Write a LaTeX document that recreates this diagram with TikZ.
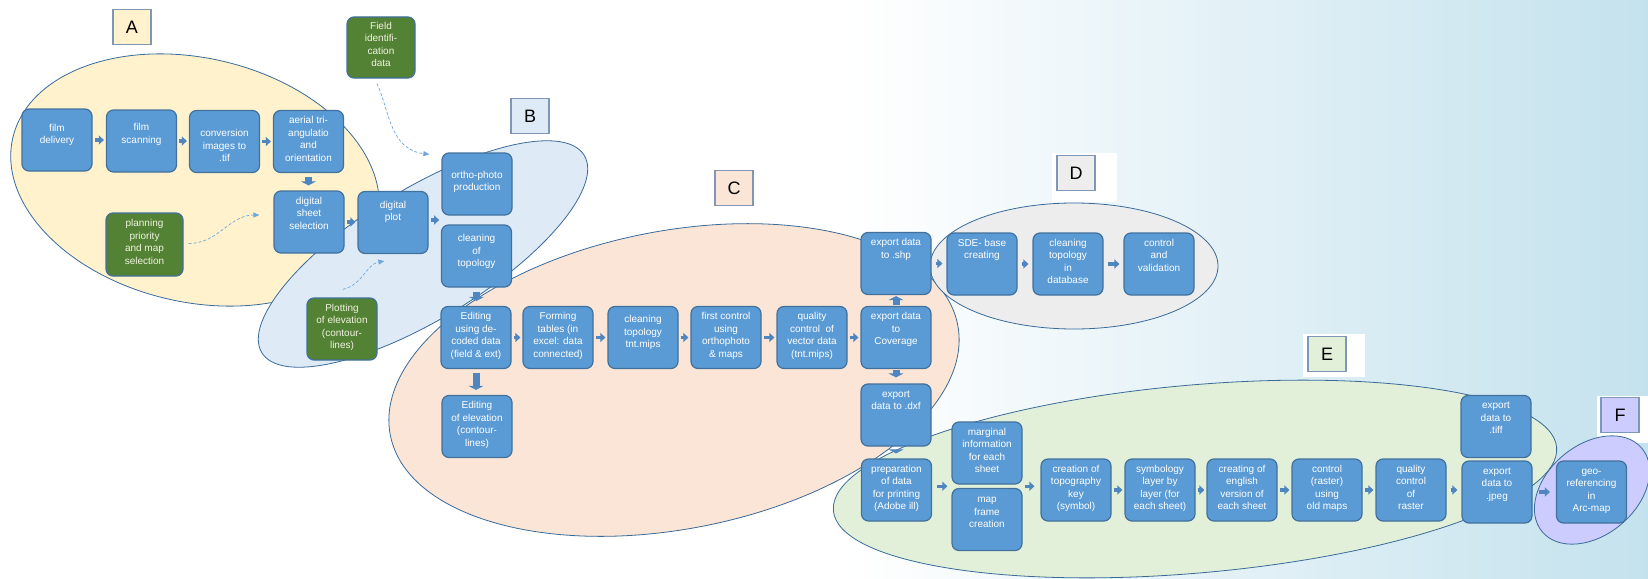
\documentclass[tikz,border=0pt]{standalone}
\usepackage{fontspec}
\setmainfont{Liberation Sans}
\usetikzlibrary{arrows.meta,calc}
\definecolor{boxfill}{HTML}{5B9BD5}
\definecolor{boxborder}{HTML}{41719C}
\definecolor{greenfill}{HTML}{548235}
\definecolor{greentext}{HTML}{F0F3E0}
\definecolor{arrowc}{HTML}{4F86C0}
\definecolor{dashc}{HTML}{6FA8DC}
\definecolor{ellborder}{HTML}{3A6A99}
\definecolor{fillA}{HTML}{FFF2CC}
\definecolor{fillB}{HTML}{DEEBF7}
\definecolor{fillC}{HTML}{FBE5D6}
\definecolor{fillD}{HTML}{EDEDED}
\definecolor{fillE}{HTML}{E2F0D9}
\definecolor{fillF}{HTML}{CCCCFF}
\definecolor{labborder}{HTML}{7F97B7}
\definecolor{bgblue}{HTML}{C4E2ED}
\newcommand{\boxtxt}[2][0pt]{\parbox[c][58pt][t]{68pt}{\centering\rule{0pt}{\dimexpr 11pt+#1\relax}#2\par}}
\tikzset{
  box/.style={draw=boxborder, fill=boxfill, rounded corners=7pt, line width=1.2pt,
    minimum width=70pt, minimum height=62pt, inner sep=0pt, text=white,
    font=\fontsize{10}{12.5}\selectfont},
  gbox/.style={box, fill=greenfill, text=greentext},
  ell/.style={draw=ellborder, line width=0.8pt},
  lab/.style={draw=labborder, line width=1.8pt, minimum width=38pt, minimum height=35pt,
    inner sep=0pt, font=\fontsize{18}{18}\selectfont},
  harr/.style={draw=arrowc, line width=3.5pt, -{Triangle[length=5pt,width=9pt]},
    shorten <=2pt, shorten >=2pt},
  varr/.style={draw=arrowc, line width=7pt, -{Triangle[length=4pt,width=15pt]},
    shorten <=4pt, shorten >=5pt},
  dconn/.style={draw=dashc, line width=0.7pt, dash pattern=on 3pt off 2pt,
    -{Triangle[length=6pt,width=5pt]}}
}
\begin{document}
\begin{tikzpicture}[x=1pt,y=-1pt]
\useasboundingbox (0,0) rectangle (1648,578);
\fill[white] (0,0) rectangle (1648,578);
\shade[left color=white,right color=bgblue] (850,0) rectangle (1648,578);
% white backings of labels
\fill[white] (1052,153) rectangle (1117,202);
\fill[white] (1303,334) rectangle (1365,377);
\fill[white] (1597,396) rectangle (1648,443);
% group ellipses
\draw[ell, fill=fillA, rotate around={-13:(195,180)}] (195,180) ellipse [x radius=187pt, y radius=122pt];
\draw[ell, fill=fillB, rotate around={31.5:(423,254)}] (423,254) ellipse [x radius=189pt, y radius=65pt];
\draw[ell, fill=fillC, rotate around={11:(674,380)}] (674,380) ellipse [x radius=289pt, y radius=149pt];
\draw[ell, fill=fillD] (1074,266) ellipse [x radius=144pt, y radius=63pt];
\draw[ell, fill=fillE, rotate around={5:(1195,479)}] (1195,479) ellipse [x radius=363pt, y radius=94pt];
\draw[ell, fill=fillF, rotate around={40:(1592,490)}] (1592,490) ellipse [x radius=65pt, y radius=45pt];
% labels
\node[lab, fill=fillA] (labA) at (132,27) {A};
\node[lab, fill=fillB] (labB) at (530,116) {B};
\node[lab, fill=fillC] (labC) at (734,188) {C};
\node[lab, fill=fillD] (labD) at (1076,173) {D};
\node[lab, fill=fillE] (labE) at (1327,354) {E};
\node[lab, fill=fillF] (labF) at (1620,415) {F};
% boxes
\node[box] (fd) at (57,140) {\boxtxt[9pt]{film\\delivery}};
\node[box] (fs) at (141.5,141) {\boxtxt[7.5pt]{film\\scanning}};
\node[box] (conv) at (224.5,141.5) {\boxtxt[13pt]{conversion\\images to\\.tif}};
\node[box] (aer) at (308.5,141.5) {\boxtxt{aerial tri-\\angulatio\\and\\orientation}};
\node[box] (dss) at (309,222) {\boxtxt{digital\\sheet\\selection}};
\node[box] (dp) at (393,222.5) {\boxtxt[3.5pt]{digital\\plot}};
\node[gbox, minimum width=77pt, minimum height=63pt] (plan) at (144.5,244.5) {\boxtxt{planning\\priority\\and map\\selection}};
\node[gbox, minimum width=68pt, minimum height=61pt] (field) at (381,47.5) {\boxtxt{Field\\identifi-\\cation\\data}};
\node[box] (ortho) at (477,184) {\boxtxt[12pt]{ortho-photo\\production}};
\node[box] (clean) at (476.5,256) {\boxtxt[3.5pt]{cleaning\\of\\topology}};
\node[gbox] (pelev) at (342,329) {\boxtxt{Plotting\\of elevation\\(contour-\\lines)}};
\node[box] (edit) at (476,337.5) {\boxtxt{Editing\\using de-\\coded data\\(field \& ext)}};
\node[box] (form) at (558,337.5) {\boxtxt{Forming\\tables (in\\excel: data\\connected)}};
\node[box] (cltnt) at (643,337.5) {\boxtxt[3pt]{cleaning\\topology\\tnt.mips}};
\node[box] (first) at (726,337.5) {\boxtxt{first control\\using\\orthophoto\\\& maps}};
\node[box] (qual) at (812,337.5) {\boxtxt{quality\\control\ \ of\\vector data\\(tnt.mips)}};
\node[box] (elev) at (477,426.5) {\boxtxt{Editing\\of elevation\\(contour-\\lines)}};
\node[box] (cov) at (896,337.5) {\boxtxt{export data\\to\\Coverage}};
\node[box] (shp) at (896,263.5) {\boxtxt{export data\\to .shp}};
\node[box] (dxf) at (896,415) {\boxtxt{export\\data to .dxf}};
\node[box] (sde) at (982,264) {\boxtxt{SDE- base\\creating}};
\node[box] (cldb) at (1068,264) {\boxtxt{cleaning\\topology\\in\\database}};
\node[box] (ctrl) at (1159,264) {\boxtxt{control\\and\\validation}};
\node[box] (prep) at (896.5,490) {\boxtxt{preparation\\of data\\for printing\\(Adobe ill)}};
\node[box] (marg) at (987,453) {\boxtxt{marginal\\information\\for each\\sheet}};
\node[box] (frame) at (987,519.5) {\boxtxt[1pt]{map\\frame\\creation}};
\node[box] (key) at (1076,490) {\boxtxt{creation of\\topography\\key\\(symbol)}};
\node[box] (symb) at (1160,490) {\boxtxt{symbology\\layer by\\layer (for\\each sheet)}};
\node[box] (eng) at (1242,490) {\boxtxt{creating of\\english\\version of\\each sheet}};
\node[box] (ctlr) at (1327,490) {\boxtxt{control\\(raster)\\using\\old maps}};
\node[box] (qr) at (1411,490) {\boxtxt{quality\\control\\of\\raster}};
\node[box] (tiff) at (1496,426.5) {\boxtxt{export\\data to\\.tiff}};
\node[box] (jpeg) at (1497,492) {\boxtxt{export\\data to\\.jpeg}};
\node[box] (geo) at (1591.5,492) {\boxtxt{geo-\\referencing\\in\\Arc-map}};
% helper coordinates
\coordinate (oc) at ($(ortho.south west)!.5!(clean.north west)$);
\coordinate (mf) at ($(marg.south west)!.5!(frame.north west)$);
\coordinate (mf2) at ($(marg.south east)!.5!(frame.north east)$);
% block arrows
\draw[harr] (fd.east) -- (fd.east -| fs.west);
\draw[harr] (fs.east) -- (fs.east -| conv.west);
\draw[harr] (conv.east) -- (conv.east -| aer.west);
\draw[varr] (aer.south) -- (aer.south |- dss.north);
\draw[harr] (dss.east) -- (dss.east -| dp.west);
\draw[harr] (dp.east |- oc) -- (oc);
\draw[varr] (clean.south) -- (clean.south |- edit.north);
\draw[harr] (edit.east) -- (edit.east -| form.west);
\draw[harr] (form.east) -- (form.east -| cltnt.west);
\draw[harr] (cltnt.east) -- (cltnt.east -| first.west);
\draw[harr] (first.east) -- (first.east -| qual.west);
\draw[harr] (qual.east) -- (qual.east -| cov.west);
\draw[varr] (edit.south) -- (edit.south |- elev.north);
\draw[varr, shorten <=1pt, shorten >=1pt] (cov.north) -- (cov.north |- shp.south);
\draw[varr, shorten <=1pt, shorten >=6pt] (cov.south) -- (cov.south |- dxf.north);
\draw[harr, shorten <=4pt, shorten >=4pt] (shp.east) -- (shp.east -| sde.west);
\draw[harr, shorten <=4pt, shorten >=4pt] (sde.east) -- (sde.east -| cldb.west);
\draw[harr, shorten <=4pt, shorten >=4pt] (cldb.east) -- (cldb.east -| ctrl.west);
\draw[varr] (dxf.south) -- (dxf.south |- prep.north);
\draw[harr, shorten <=5pt, shorten >=4pt] (prep.east |- mf) -- (mf);
\draw[harr, shorten <=2pt, shorten >=6pt] (mf2) -- (mf2 -| key.west);
\draw[harr] (key.east) -- (key.east -| symb.west);
\draw[harr] (symb.east) -- (symb.east -| eng.west);
\draw[harr] (eng.east) -- (eng.east -| ctlr.west);
\draw[harr] (ctlr.east) -- (ctlr.east -| qr.west);
\draw[harr, shorten <=4pt, shorten >=4pt] (qr.east) -- (qr.east -| jpeg.west);
\draw[harr, shorten <=6pt, shorten >=6pt] (jpeg.east) -- (jpeg.east -| geo.west);
% dashed connectors
\draw[dconn] ($(field.south)+(-4,5)$) .. controls +(12,25) and +(-40,-5) .. ($(ortho.north west)+(-12,2)$);
\draw[dconn] ($(plan.east)+(5,-1)$) .. controls +(30,0) and +(-30,0) .. ($(dss.west)+(-14,-7)$);
\draw[dconn] ($(pelev.north)+(1,-8)$) .. controls +(20,-5) and +(-18,3) .. ($(dp.south west)+(27,7)$);
\end{tikzpicture}
\end{document}
